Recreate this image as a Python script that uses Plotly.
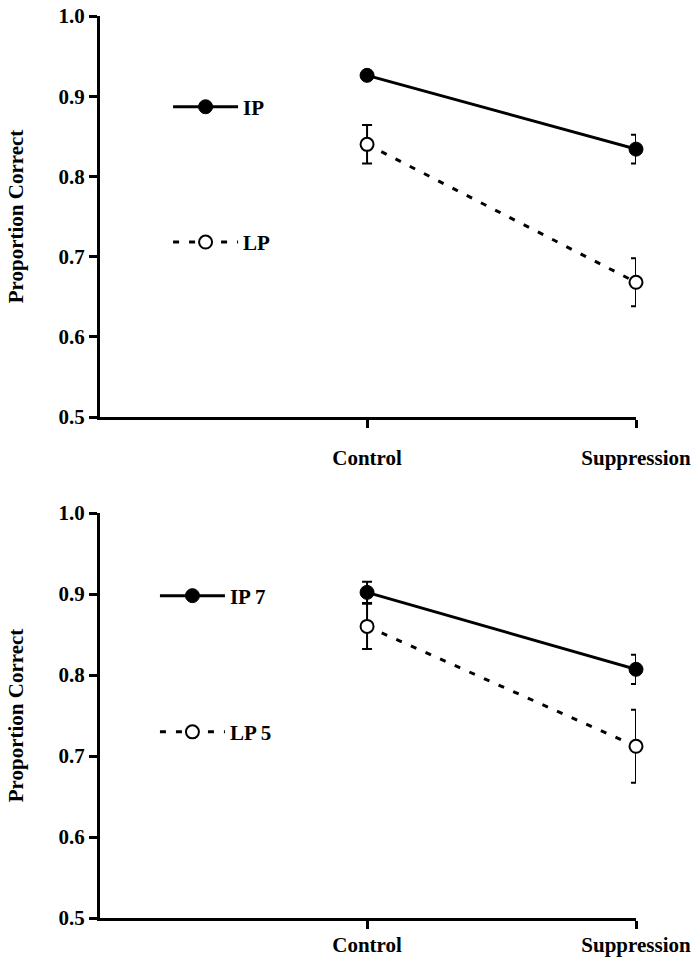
import plotly.graph_objects as go

# ---- data ----
conditions = ["Control", "Suppression"]

ip_top = [0.926, 0.834]
ip_top_err = [0.004, 0.018]
lp_top = [0.840, 0.668]
lp_top_err = [0.024, 0.030]

ip7_bottom = [0.902, 0.807]
ip7_bottom_err = [0.013, 0.018]
lp5_bottom = [0.860, 0.712]
lp5_bottom_err = [0.028, 0.045]

y_tickvals = [0.5, 0.6, 0.7, 0.8, 0.9, 1.0]
y_ticktext = ["0.5", "0.6", "0.7", "0.8", "0.9", "1.0"]

# ---- styling ----
FONT = dict(family="Liberation Serif", size=21, color="black", weight="bold")
INK = "black"

fig = go.Figure()


def add_pair(ip_vals, ip_err, lp_vals, lp_err, ip_name, lp_name, xa, ya, leg_ip, leg_lp):
    fig.add_trace(go.Scatter(
        x=conditions, y=lp_vals, name=lp_name, mode="lines+markers",
        xaxis=xa, yaxis=ya, legend=leg_lp, cliponaxis=False,
        line=dict(color=INK, width=3, dash="6px,10px"),
        marker=dict(symbol="circle", size=13, color="white", line=dict(color=INK, width=2)),
        error_y=dict(type="data", array=lp_err, visible=True, color=INK, thickness=2, width=5),
    ))
    fig.add_trace(go.Scatter(
        x=conditions, y=ip_vals, name=ip_name, mode="lines+markers",
        xaxis=xa, yaxis=ya, legend=leg_ip, cliponaxis=False,
        line=dict(color=INK, width=3),
        marker=dict(symbol="circle", size=14, color=INK, line=dict(color=INK, width=1)),
        error_y=dict(type="data", array=ip_err, visible=True, color=INK, thickness=2, width=5),
    ))


add_pair(ip_top, ip_top_err, lp_top, lp_top_err, "IP", "LP", "x", "y", "legend", "legend2")
add_pair(ip7_bottom, ip7_bottom_err, lp5_bottom, lp5_bottom_err, "IP 7", "LP 5", "x2", "y2", "legend3", "legend4")

xcommon = dict(
    type="category", categoryorder="array", categoryarray=conditions,
    range=[-0.993, 1.0], showgrid=False, zeroline=False,
    showline=True, linecolor=INK, linewidth=3,
    ticks="outside", ticklen=8, tickwidth=2.5, tickcolor=INK,
    tickfont=FONT, automargin=False, ticklabeloverflow="allow",
)
ycommon = dict(
    range=[0.5, 1.0], tickvals=y_tickvals, ticktext=y_ticktext,
    showgrid=False, zeroline=False,
    showline=True, linecolor=INK, linewidth=3,
    ticks="outside", ticklen=8, tickwidth=2.5, tickcolor=INK,
    tickfont=FONT, ticklabelstandoff=0, automargin=False, ticklabeloverflow="allow",
    title=dict(text="Proportion Correct", font=dict(family="Liberation Serif", size=21, color="black", weight="bold"), standoff=30),
)

legend_common = dict(
    font=FONT, bgcolor="rgba(0,0,0,0)", borderwidth=0,
    xanchor="left", yanchor="middle", itemclick=False, itemwidth=65,
)

fig.update_layout(
    width=695, height=975,
    margin=dict(l=100, r=59, t=16, b=57),
    paper_bgcolor="white", plot_bgcolor="white",
    font=FONT,
    xaxis=dict(xcommon, domain=[0, 1], anchor="y", ticklabelstandoff=12),
    yaxis=dict(ycommon, domain=[0.5554, 1.0], anchor="x"),
    xaxis2=dict(xcommon, domain=[0, 1], anchor="y2", ticklabelstandoff=-2),
    yaxis2=dict(ycommon, domain=[0.0, 0.449], anchor="x2"),
    legend=dict(legend_common, x=0.127, y=0.899),
    legend2=dict(legend_common, x=0.127, y=0.749),
    legend3=dict(legend_common, x=0.1025, y=0.357),
    legend4=dict(legend_common, x=0.1025, y=0.206),
    showlegend=True,
)

fig.write_html(
    "out.html",
    config={"displayModeBar": False},
    post_script="document.body.style.margin='0';document.body.style.overflow='hidden';",
)
